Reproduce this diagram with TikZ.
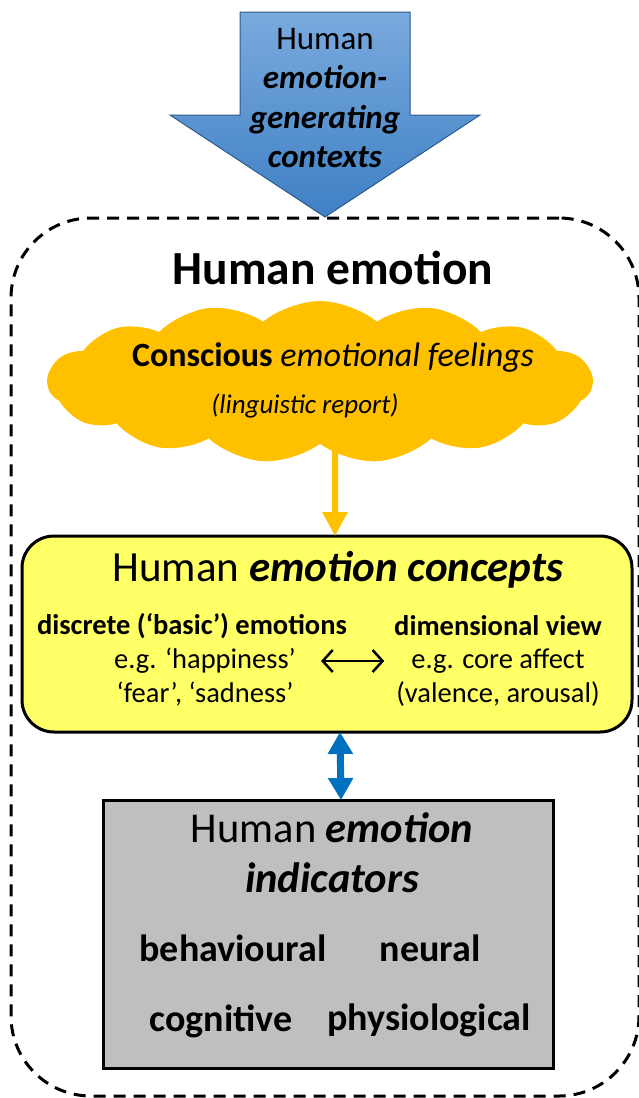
\documentclass[tikz,border=0pt]{standalone}
\usepackage{fontspec}
\setmainfont{Carlito}
\usetikzlibrary{shapes.symbols, arrows.meta}

\definecolor{ctxtop}{RGB}{122,170,222}
\definecolor{ctxbottom}{RGB}{62,128,196}
\definecolor{ctxline}{RGB}{45,90,140}
\definecolor{feelorange}{RGB}{255,192,0}
\definecolor{conceptyellow}{RGB}{255,255,102}
\definecolor{indgray}{RGB}{191,191,191}
\definecolor{linkblue}{RGB}{0,112,192}

\tikzset{
  sz/.style={font=\fontsize{#1}{#1}\selectfont, inner sep=0pt},
  frame/.style={draw, line width=3, dash pattern=on 12 off 8, rounded corners=80},
  ctxarrow/.style={draw=ctxline, line width=1, top color=ctxtop, bottom color=ctxbottom},
  feeling/.style={cloud, cloud puffs=15, cloud puff arc=80, cloud ignores aspect, fill=feelorange},
  concept/.style={draw, line width=3, fill=conceptyellow, rounded corners=32},
  indicator/.style={draw, line width=3, fill=indgray},
}

\begin{document}
\begin{tikzpicture}[x=1pt, y=-1pt]
\useasboundingbox (0,0) rectangle (639,1098);

% whole human emotion frame
\node[frame, minimum width=628, minimum height=878] (human) at (325,657) {};
\node[sz=47.5] (title) at (333,268) {\textbf{Human emotion}};

% contexts arrow
\path[ctxarrow] (240,12) -- (410,12) -- (410,115) -- (480,115) -- (325,217)
  -- (170,115) -- (240,115) -- cycle;
\node[sz=33, align=center, font=\fontsize{33}{39.5}\selectfont] (contexts) at (325,98)
  {Human\\\textbf{\textit{emotion-}}\\\textbf{\textit{generating}}\\\textbf{\textit{contexts}}};

% feelings
\node[feeling, minimum width=545, minimum height=162] (feelings) at (320,382) {};
\node[sz=34] (conscious) at (333,357) {\textbf{Conscious} \textit{emotional feelings}};
\node[sz=27] (report) at (305,406) {\textit{(linguistic report)}};

% concepts
\node[concept, minimum width=610, minimum height=196] (concepts) at (327,634) {};
\node[sz=43] (conhead) at (338,570) {Human \textbf{\textit{emotion concepts}}};
\node[sz=28.5] (discrete) at (192,626) {\textbf{discrete (`basic') emotions}};
\node[sz=28.5] (happy) at (205,661) {e.g. `happiness'};
\node[sz=28.5] (fear) at (205,694) {`fear', `sadness'};
\node[sz=28.5] (dimension) at (498,626) {\textbf{dimensional view}};
\node[sz=28.5] (core) at (498,661) {e.g. core affect};
\node[sz=28.5] (valence) at (498,694) {(valence, arousal)};

% indicators
\node[indicator, minimum width=450, minimum height=268] (indicators) at (328,934) {};
\node[sz=42.5, align=center, font=\fontsize{42.5}{50}\selectfont] (indhead) at (332,853)
  {Human \textbf{\textit{emotion}}\\\textbf{\textit{indicators}}};
\node[sz=38] (behav) at (233,948) {\textbf{behavioural}};
\node[sz=38] (neural) at (430,948) {\textbf{neural}};
\node[sz=38] (cogn) at (221,1021) {\textbf{cognitive}};
\node[sz=38] (physio) at (429,1020) {\textbf{physiological}};

% links
\draw[feelorange, line width=6, -{Triangle[length=24, width=24]}]
  ([xshift=15]feelings.south) -- ([xshift=8, yshift=-1.5]concepts.north);
\draw[line width=2.5, {Straight Barb[length=10, width=22]}-{Straight Barb[length=10, width=22]}]
  ([xshift=25]happy.east) -- ([xshift=-27]core.west);
\draw[linkblue, line width=7, {Triangle[length=22, width=24]}-{Triangle[length=22, width=24]}]
  ([xshift=13, yshift=1.5]concepts.south) -- ([xshift=13, yshift=-1.5]indicators.north);
\end{tikzpicture}
\end{document}
